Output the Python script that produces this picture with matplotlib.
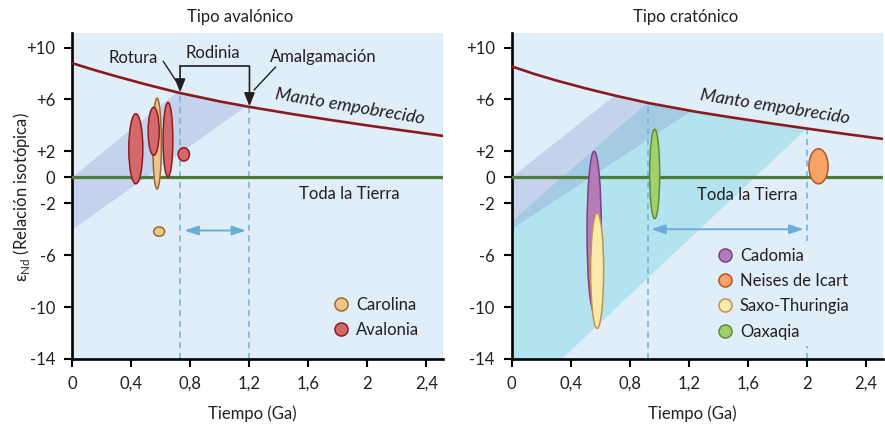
#!/usr/bin/python3

# two panels of Nd isotope evolution (epsilon Nd vs time), avalonian vs cratonic type
# output: out.png

import numpy as np
import matplotlib
matplotlib.use('Agg')
import matplotlib.pyplot as plt
from matplotlib.patches import Ellipse, Polygon
from matplotlib.lines import Line2D

plt.rcParams['font.family'] = ['Lato', 'DejaVu Sans']
plt.rcParams['font.size'] = 12

BG = '#e0eef9'
TXT = '#231f20'
DASH = '#6eb0da'

# depleted mantle curve, one per panel
dm_t_left = [0, 0.15, 0.3, 0.5, 0.73, 1.0, 1.2, 1.5, 1.75, 2.0, 2.25, 2.52]
dm_y_left = [8.8, 8.27, 7.78, 7.16, 6.5, 5.85, 5.43, 4.86, 4.42, 4.0, 3.6, 3.18]
dm_t_right = [0, 0.15, 0.3, 0.5, 0.7, 0.93, 1.25, 1.5, 1.75, 2.0, 2.25, 2.52]
dm_y_right = [8.55, 7.98, 7.47, 6.86, 6.3, 5.72, 5.05, 4.6, 4.17, 3.76, 3.36, 2.95]

xticks = [0, 0.4, 0.8, 1.2, 1.6, 2.0, 2.4]
xticklabels = ['0', '0,4', '0,8', '1,2', '1,6', '2', '2,4']
yticks = [10, 6, 2, 0, -2, -6, -10, -14]
yticklabels = ['+10', '+6', '+2', '0', '-2', '-6', '-10', '-14']

# model age markers (dashed) and the arrows between them
ages_left = [0.732, 1.202]
ages_right = [0.926, 2.0]
span_left = [0.76, 1.18, -4.1]
span_right = [0.946, 1.98, -4.0]

# ellipses: x, y, width (Ga), height (eps units)
carolina_x = [0.576, 0.59]
carolina_y = [2.6, -4.18]
carolina_w = [0.058, 0.074]
carolina_h = [7.0, 0.72]

avalonia_x = [0.432, 0.553, 0.65, 0.757]
avalonia_y = [2.2, 3.55, 2.9, 1.77]
avalonia_w = [0.095, 0.075, 0.066, 0.077]
avalonia_h = [5.4, 3.7, 5.75, 1.03]

cadomia_x, cadomia_y, cadomia_w, cadomia_h = [0.56], [-4.2], [0.097], [12.4]
saxo_x, saxo_y, saxo_w, saxo_h = [0.58], [-7.2], [0.088], [8.9]
oaxaqia_x, oaxaqia_y, oaxaqia_w, oaxaqia_h = [0.97], [0.26], [0.068], [6.9]
neises_x, neises_y, neises_w, neises_h = [2.08], [0.85], [0.13], [2.7]

colors = {
    'Carolina': ('#eec58d', '#9a6a2c'),
    'Avalonia': ('#d4696b', '#8e1b20'),
    'Cadomia': ('#b57db8', '#7b3f86'),
    'Neises de Icart': ('#f9a266', '#b0562a'),
    'Saxo-Thuringia': ('#faeaab', '#c4924a'),
    'Oaxaqia': ('#a3cf6f', '#5c8f2f'),
}


def band(ax, t, dm, left_pts, xa, xb, right_pts, **kw):
    "polygon whose top edge follows the mantle curve between xa and xb"
    inner = [(x, y) for x, y in zip(t, dm) if xa < x < xb]
    verts = (left_pts + [(xa, np.interp(xa, t, dm))] + inner
             + [(xb, np.interp(xb, t, dm))] + right_pts)
    ax.add_patch(Polygon(verts, closed=True, lw=0, **kw))


def ellipses(ax, name, xs, ys, ws, hs, z=5):
    fc, ec = colors[name]
    for x, y, w, h in zip(xs, ys, ws, hs):
        ax.add_patch(Ellipse((x, y), w, h, facecolor=fc, edgecolor=ec, lw=1.1, zorder=z))


def setup(ax, t, dm):
    ax.set_facecolor(BG)
    ax.set_xlim(0, 2.515)
    ax.set_ylim(-14, 11.1)
    for s in ['top', 'right']:
        ax.spines[s].set_visible(False)
    for s in ['left', 'bottom']:
        ax.spines[s].set_linewidth(1.9)
        ax.spines[s].set_color('black')
    ax.set_xticks(xticks)
    ax.set_xticklabels(xticklabels)
    ax.set_yticks(yticks)
    ax.set_yticklabels(yticklabels)
    ax.tick_params(direction='out', length=6, width=1.5, colors='black',
                   labelcolor=TXT, labelsize=12, pad=6)
    ax.plot(t, dm, color='#8b1a1f', lw=1.9, zorder=4, solid_capstyle='butt',
            solid_joinstyle='round')
    ax.axhline(0, color='#4d7b38', lw=2.3, zorder=3)


def ages(ax, t, dm, xs, span):
    for x in xs:
        ax.plot([x, x], [-14, np.interp(x, t, dm)], color=DASH, lw=1.1,
                ls=(0, (4, 3)), zorder=2)
    ax.annotate('', xy=(span[1], span[2]), xytext=(span[0], span[2]),
                arrowprops=dict(arrowstyle='<|-|>,head_length=0.6,head_width=0.2',
                                color='#6aaed6', lw=1.4, mutation_scale=14,
                                shrinkA=0, shrinkB=0), zorder=6)


def legend(ax, names, anchor):
    handles = [Line2D([], [], marker='o', ls='none', markersize=9.4,
                      markerfacecolor=colors[n][0], markeredgecolor=colors[n][1],
                      markeredgewidth=1.1) for n in names]
    leg = ax.legend(handles, names, loc='center left', bbox_to_anchor=anchor,
                    frameon=True, facecolor=BG, edgecolor='none', framealpha=1,
                    fancybox=False, handlelength=1.0, handletextpad=0.4,
                    borderpad=0.4, labelspacing=0.56, fontsize=12)
    for tx in leg.get_texts():
        tx.set_color(TXT)
    leg.set_zorder(7)


fig = plt.figure(figsize=(8.85, 4.26), dpi=100)
axl = fig.add_axes([0.0814, 0.1573, 0.4195, 0.7646])
axr = fig.add_axes([0.578, 0.1573, 0.4194, 0.7646])

# left panel: avalonian type
setup(axl, dm_t_left, dm_y_left)
band(axl, dm_t_left, dm_y_left, [(0, 0)], 0.71, 1.18, [(0, -4.05)],
     facecolor='#8694cd', alpha=0.3, zorder=1)
ages(axl, dm_t_left, dm_y_left, ages_left, span_left)
ellipses(axl, 'Carolina', carolina_x, carolina_y, carolina_w, carolina_h, z=5)
ellipses(axl, 'Avalonia', avalonia_x, avalonia_y, avalonia_w, avalonia_h, z=5)

axl.text(0.417, 9.19, 'Rotura', ha='center', va='center', color=TXT, fontsize=12)
axl.text(0.951, 9.58, 'Rodinia', ha='center', va='center', color=TXT, fontsize=12)
axl.text(1.70, 9.26, 'Amalgamación', ha='center', va='center', color=TXT, fontsize=12)
axl.plot([0.619, 0.703], [8.92, 7.46], color=TXT, lw=1.0, zorder=6)
axl.plot([1.378, 1.234], [8.49, 6.74], color=TXT, lw=1.0, zorder=6)
axl.plot([ages_left[0], ages_left[1]], [8.56, 8.56], color=TXT, lw=1.2, zorder=6)
for x in ages_left:
    axl.annotate('', xy=(x, np.interp(x, dm_t_left, dm_y_left) + 0.05), xytext=(x, 8.56),
                 arrowprops=dict(arrowstyle='-|>,head_length=0.5,head_width=0.2',
                                 color=TXT, lw=1.2, mutation_scale=16,
                                 shrinkA=0, shrinkB=0), zorder=6)
axl.text(1.885, 5.46, 'Manto empobrecido', rotation=-9.5, rotation_mode='anchor',
         ha='center', va='center', style='italic', color=TXT, fontsize=13)
axl.text(1.88, -1.31, 'Toda la Tierra', ha='center', va='center', color=TXT, fontsize=12)
legend(axl, ['Carolina', 'Avalonia'], (0.662, 0.127))

# right panel: cratonic type
setup(axr, dm_t_right, dm_y_right)
band(axr, dm_t_right, dm_y_right, [(0, -14), (0, -3.4)], 0.92, 2.0, [(0.34, -14)],
     facecolor='#b3e3ef', zorder=1)
band(axr, dm_t_right, dm_y_right, [(0, 0)], 0.70, 1.22, [(0, -4.0)],
     facecolor='#8694cd', alpha=0.3, zorder=1.5)
ages(axr, dm_t_right, dm_y_right, ages_right, span_right)
ellipses(axr, 'Cadomia', cadomia_x, cadomia_y, cadomia_w, cadomia_h, z=5)
ellipses(axr, 'Saxo-Thuringia', saxo_x, saxo_y, saxo_w, saxo_h, z=5.1)
ellipses(axr, 'Oaxaqia', oaxaqia_x, oaxaqia_y, oaxaqia_w, oaxaqia_h, z=5)
ellipses(axr, 'Neises de Icart', neises_x, neises_y, neises_w, neises_h, z=5)
axr.text(1.785, 5.44, 'Manto empobrecido', rotation=-9, rotation_mode='anchor',
         ha='center', va='center', style='italic', color=TXT, fontsize=13)
axr.text(1.595, -1.33, 'Toda la Tierra', ha='center', va='center', color=TXT, fontsize=12)
legend(axr, ['Cadomia', 'Neises de Icart', 'Saxo-Thuringia', 'Oaxaqia'], (0.512, 0.201))

# titles and axis labels as figure text
fig.text(240 / 885, 1 - 17 / 426, 'Tipo avalónico', ha='center', va='center', color=TXT, fontsize=12)
fig.text(686 / 885, 1 - 17 / 426, 'Tipo cratónico', ha='center', va='center', color=TXT, fontsize=12)
fig.text(252 / 885, 1 - 414 / 426, 'Tiempo (Ga)', ha='center', va='center', color=TXT, fontsize=12)
fig.text(692 / 885, 1 - 414 / 426, 'Tiempo (Ga)', ha='center', va='center', color=TXT, fontsize=12)
fig.text(22 / 885, 1 - 197 / 426, r'ε$_{\mathregular{Nd}}$ (Relación isotópica)', rotation=90,
         ha='center', va='center', color=TXT, fontsize=12)

fig.savefig('out.png', dpi=100)
